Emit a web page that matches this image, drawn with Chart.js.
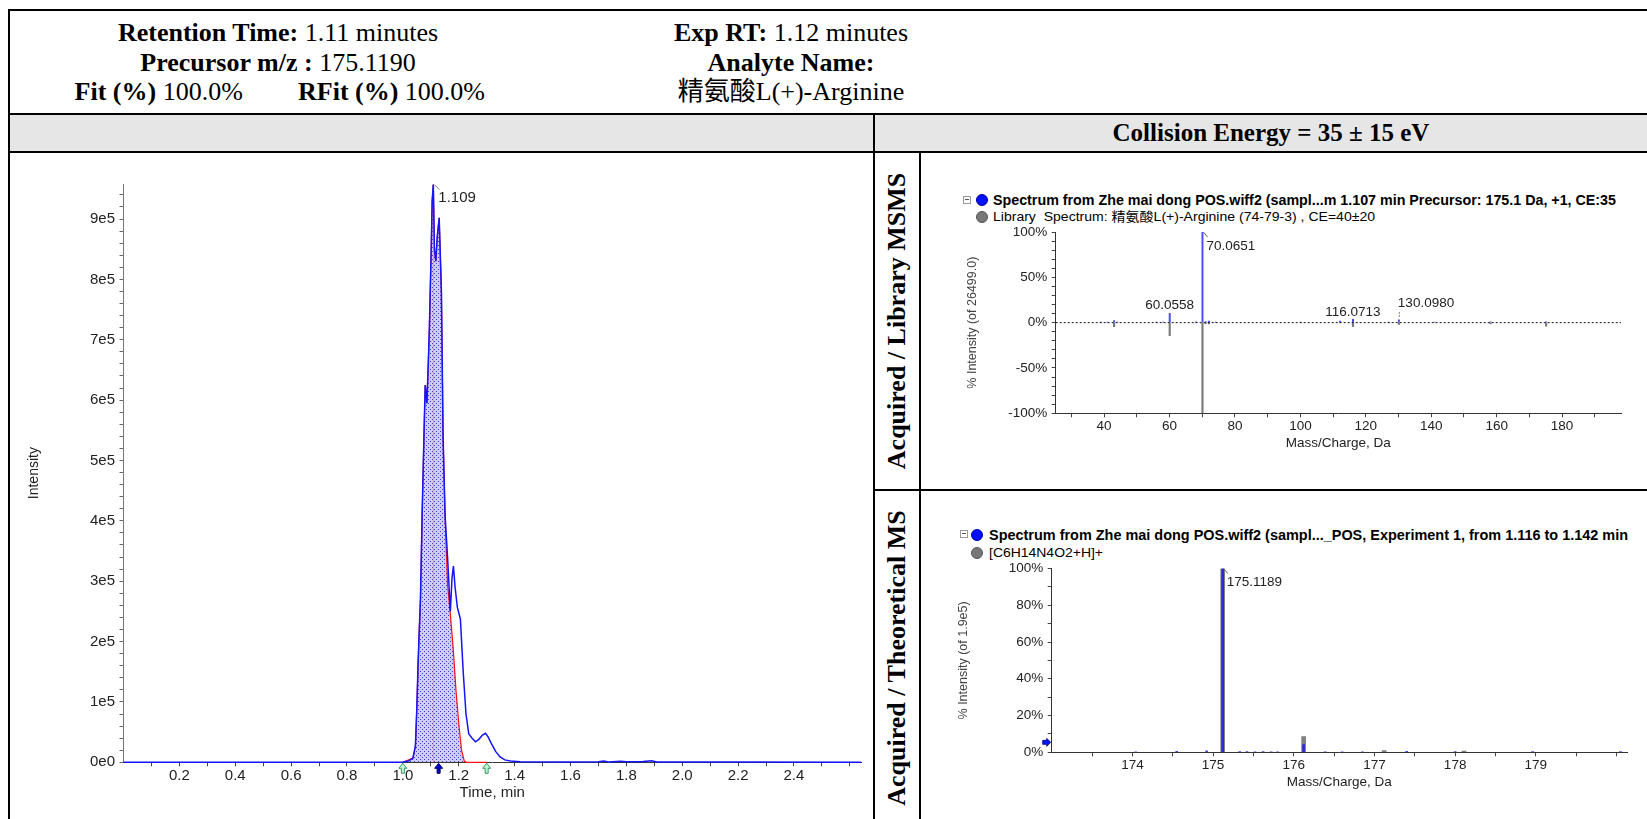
<!DOCTYPE html>
<html>
<head>
<meta charset="utf-8">
<script src="https://cdn.jsdelivr.net/npm/chart.js"></script>
<style>
html,body{margin:0;padding:0;background:#fff;}
body{position:relative;width:1647px;height:819px;overflow:hidden;}
.ln{position:absolute;background:#000;}
.hdr{position:absolute;font-family:"Liberation Serif","Times New Roman","Noto Sans CJK SC",serif;font-size:26px;line-height:29.2px;color:#000;text-align:center;white-space:nowrap;}
.rot{position:absolute;font-family:"Liberation Serif","Times New Roman",serif;font-weight:bold;font-size:26px;line-height:30px;white-space:nowrap;transform:translate(-50%,-50%) rotate(-90deg);color:#000;}
canvas{position:absolute;}
.leg{position:absolute;font-family:"Liberation Sans",Arial,"Noto Sans CJK SC",sans-serif;white-space:nowrap;transform-origin:0 50%;color:#000;line-height:16px;}
.dot{position:absolute;border-radius:50%;box-sizing:border-box;}
.box{position:absolute;width:6px;height:6px;border:1px solid #9a9a9a;background:#fff;}
.box:after{content:"";position:absolute;left:1px;top:2px;width:4px;height:1px;background:#555;}
</style>
</head>
<body>
<!-- table frame -->
<div class="ln" style="left:8px;top:9px;width:1700px;height:2px"></div>
<div class="ln" style="left:8px;top:9px;width:2px;height:820px"></div>
<div class="ln" style="left:8px;top:113px;width:1700px;height:2px"></div>
<div style="position:absolute;left:10px;top:115px;width:1650px;height:36px;background:#e6e6e6"></div>
<div class="ln" style="left:8px;top:151px;width:1700px;height:2px"></div>
<div class="ln" style="left:872.5px;top:115px;width:2px;height:710px"></div>
<div class="ln" style="left:918.5px;top:153px;width:2px;height:670px"></div>
<div class="ln" style="left:873px;top:489px;width:800px;height:2px"></div>

<!-- header -->
<div class="hdr" style="left:78px;top:18.3px;width:400px;"><b>Retention Time:</b> 1.11 minutes<br><b>Precursor m/z :</b> 175.1190</div>
<div class="hdr" style="left:74.6px;top:76.7px;text-align:left"><b>Fit (%)</b> 100.0%</div>
<div class="hdr" style="left:298px;top:76.7px;text-align:left"><b>RFit (%)</b> 100.0%</div>
<div class="hdr" style="left:591px;top:18.3px;width:400px;"><b>Exp RT:</b> 1.12 minutes<br><b>Analyte Name:</b><br>精氨酸L(+)-Arginine</div>
<div class="hdr" style="left:1071px;top:115px;width:400px;font-size:25px;line-height:36px;font-weight:bold">Collision Energy = 35 ± 15 eV</div>

<div class="rot" style="left:897px;top:321px">Acquired / Library MSMS</div>
<div class="rot" style="left:897px;top:658px">Acquired / Theoretical MS</div>

<!-- legends -->
<div class="box" style="left:963px;top:196px"></div>
<div class="dot" style="left:975.7px;top:194px;width:12px;height:12px;background:#0010ff;border:1px solid #0000a0"></div>
<div class="dot" style="left:975.7px;top:210.7px;width:12px;height:12px;background:#777;border:1px solid #555"></div>
<div class="leg" id="lt1" style="left:993.3px;top:192px;font-size:14px;font-weight:bold">Spectrum from Zhe mai dong POS.wiff2 (sampl...m 1.107 min Precursor: 175.1 Da, +1, CE:35</div>
<div class="leg" id="lt2" style="left:993.3px;top:208.7px;font-size:13px">Library&nbsp; Spectrum: 精氨酸L(+)-Arginine (74-79-3) , CE=40±20</div>

<div class="box" style="left:960px;top:530px"></div>
<div class="dot" style="left:971.3px;top:529px;width:12px;height:12px;background:#0010ff;border:1px solid #0000a0"></div>
<div class="dot" style="left:971.3px;top:547.3px;width:12px;height:12px;background:#777;border:1px solid #555"></div>
<div class="leg" id="lb1" style="left:989.3px;top:527px;font-size:14px;font-weight:bold">Spectrum from Zhe mai dong POS.wiff2 (sampl..._POS, Experiment 1, from 1.116 to 1.142 min</div>
<div class="leg" id="lb2" style="left:989.3px;top:545.3px;font-size:13px">[C6H14N4O2+H]+</div>

<canvas id="chrom" width="862" height="666" style="left:10px;top:153px"></canvas>
<canvas id="msms" width="726" height="336" style="left:921px;top:153px"></canvas>
<canvas id="ms" width="726" height="328" style="left:921px;top:491px"></canvas>

<script>
// ================= DATA =================
// Extracted ion chromatogram (time in min, intensity in counts)
const chromTime = [0, 0.5, 0.98, 1.0, 1.02, 1.036, 1.045, 1.05, 1.054, 1.058, 1.063, 1.069, 1.075, 1.08, 1.086, 1.091, 1.095, 1.101, 1.105, 1.109, 1.113, 1.118, 1.123, 1.13, 1.138, 1.144, 1.151, 1.16, 1.17, 1.176, 1.181, 1.187, 1.195, 1.206, 1.216, 1.226, 1.236, 1.248, 1.26, 1.272, 1.285, 1.296, 1.305, 1.318, 1.332, 1.348, 1.365, 1.385, 1.42, 1.6, 1.7, 1.72, 1.735, 1.78, 1.8, 1.86, 1.89, 1.91, 2.2, 2.64];
const chromIntensity = [0, 0, 0, 500, 2000, 7000, 27000, 90000, 155000, 210000, 270000, 410000, 530000, 625000, 595000, 660000, 720000, 840000, 930000, 957000, 850000, 830000, 870000, 902000, 780000, 540000, 410000, 340000, 250000, 305000, 325000, 290000, 257000, 237000, 150000, 80000, 47000, 40000, 34000, 38000, 45000, 48000, 42000, 30000, 18000, 9000, 4000, 2000, 1000, 500, 800, 2000, 500, 1800, 1000, 1200, 2500, 500, 300, 0];
// Integrated / fitted peak (red)
const fitTime = [1.0, 1.036, 1.045, 1.05, 1.054, 1.058, 1.063, 1.069, 1.075, 1.08, 1.086, 1.091, 1.095, 1.101, 1.105, 1.109, 1.113, 1.118, 1.123, 1.13, 1.138, 1.144, 1.151, 1.16, 1.17, 1.18, 1.19, 1.2, 1.21, 1.22, 1.226, 1.3];
const fitIntensity = [0, 7000, 27000, 90000, 155000, 210000, 270000, 410000, 530000, 625000, 595000, 660000, 720000, 840000, 930000, 957000, 850000, 830000, 870000, 902000, 780000, 540000, 410000, 295000, 245000, 190000, 120000, 65000, 20000, 2000, 0, 0];
const chromPeakRT = 1.109;
const chromPeakMax = 957000;
const chromPeakText = '1.109';
const peakBoundaryTimes = [1.0, 1.3];
const expectedRTMarker = 1.128;
const chromXTickLabels = [0.2, 0.4, 0.6, 0.8, 1.0, 1.2, 1.4, 1.6, 1.8, 2.0, 2.2, 2.4];
const chromYTickLabels = [0, 100000, 200000, 300000, 400000, 500000, 600000, 700000, 800000, 900000];

// MS/MS mirror (acquired up, library down), % intensity
const msmsAcqMz  = [39.0, 41.0, 43.05, 44.05, 56.05, 58.0, 60.0558, 68.05, 70.0651, 71.05, 72.05, 74.0, 100.1, 112.1, 116.0713, 127.0, 130.098, 141.0, 158.1, 175.1];
const msmsAcqInt = [0.6, 0.4, 2.2, 0.5, 0.5, 0.4, 10.4, 0.8, 100, 1.2, 1.8, 0.5, 0.4, 1.8, 3.7, 0.4, 3.0, 0.5, 0.8, 0.8];
const msmsLibMz  = [43.05, 60.05, 70.065, 71.05, 72.05, 116.07, 130.1, 158.1, 175.12];
const msmsLibInt = [-4.5, -14.5, -100, -1, -1.5, -4.5, -2, -1.5, -4];
const msmsLabels = [
  {mz: 70.0651, y: 100, text: '70.0651', pos: 'right'},
  {mz: 60.0558, y: 10.4, text: '60.0558', pos: 'above'},
  {mz: 116.0713, y: 3.7, text: '116.0713', pos: 'above'},
  {mz: 130.0980, y: 3.0, text: '130.0980', pos: 'aboveRight'}
];
const msmsXTickLabels = [40, 60, 80, 100, 120, 140, 160, 180];
const msmsYTickLabels = [-100, -50, 0, 50, 100];

// MS isotope (acquired vs theoretical), % intensity
const msAcqMz  = [174.04, 174.55, 174.92, 175.1189, 175.33, 175.42, 175.52, 175.62, 175.72, 175.8, 176.1217, 176.39, 176.6, 176.85, 177.4, 178.0, 178.96, 180.05];
const msAcqInt = [0.3, 0.5, 0.8, 100, 0.4, 0.4, 0.3, 0.4, 0.3, 0.3, 4.2, 0.3, 0.3, 0.3, 0.5, 0.4, 0.4, 0.4];
const msTheoMz  = [175.119, 176.1222, 177.12, 178.11];
const msTheoInt = [100, 8.5, 0.9, 0.6];
const msLabels = [{mz: 175.1189, y: 100, text: '175.1189', pos: 'right'}];
const msPrecursorMarker = 5.4;
const msXTickLabels = [174, 175, 176, 177, 178, 179];
const msYTickLabels = [0, 20, 40, 60, 80, 100];

// ================= HELPERS =================
function steps(a, b, s) { const r = []; for (let v = a; v <= b + 1e-9; v += s) r.push(+v.toFixed(6)); return r; }
function pts(xs, ys) { return xs.map((x, i) => ({x: x, y: ys[i]})); }
function findLabel(arr, v) { return arr.find(l => Math.abs(l - v) < 1e-6); }

Chart.defaults.font.family = '"Liberation Sans", Arial, sans-serif';
Chart.defaults.color = '#222';
Chart.defaults.animation = false;

function makePattern(ctx) {
  const c = document.createElement('canvas'); c.width = 4; c.height = 4;
  const g = c.getContext('2d');
  g.fillStyle = '#cdcdf6'; g.fillRect(0, 0, 4, 4);
  g.fillStyle = '#3c3cd8'; g.fillRect(0, 0, 1, 1); g.fillRect(2, 2, 1, 1);
  return ctx.createPattern(c, 'repeat');
}

function upArrow(ctx, cx, top, stroke, fill) {
  ctx.beginPath();
  ctx.moveTo(cx, top);
  ctx.lineTo(cx + 4, top + 5);
  ctx.lineTo(cx + 1.5, top + 5);
  ctx.lineTo(cx + 1.5, top + 10);
  ctx.lineTo(cx - 1.5, top + 10);
  ctx.lineTo(cx - 1.5, top + 5);
  ctx.lineTo(cx - 4, top + 5);
  ctx.closePath();
  ctx.fillStyle = fill; ctx.fill();
  ctx.strokeStyle = stroke; ctx.lineWidth = 1; ctx.stroke();
}

// ================= CHROMATOGRAM =================
const chromCtx = document.getElementById('chrom').getContext('2d');
const chromDecor = {
  id: 'chromDecor',
  afterDatasetsDraw(chart) {
    const {ctx, scales: {x, y}} = chart;
    ctx.save();
    const px = x.getPixelForValue(chromPeakRT), py = y.getPixelForValue(chromPeakMax);
    ctx.strokeStyle = '#777'; ctx.lineWidth = 1;
    ctx.beginPath(); ctx.moveTo(px + 1, py); ctx.lineTo(px + 6, py + 5); ctx.stroke();
    ctx.fillStyle = '#222'; ctx.font = '15px "Liberation Sans", Arial, sans-serif';
    ctx.textAlign = 'left'; ctx.textBaseline = 'middle';
    ctx.fillText(chromPeakText, px + 5, py + 13.5);
    const y0 = y.getPixelForValue(0) + 1;
    peakBoundaryTimes.forEach(t => upArrow(ctx, x.getPixelForValue(t), y0, '#2f9c60', '#c6f2d6'));
    upArrow(ctx, x.getPixelForValue(expectedRTMarker), y0, '#000070', '#0000c8');
    ctx.restore();
  }
};
new Chart(chromCtx, {
  type: 'line',
  data: {
    datasets: [
      {data: pts(fitTime, fitIntensity), borderColor: '#ff1010', borderWidth: 1.2, fill: 'origin',
       backgroundColor: makePattern(chromCtx), pointRadius: 0, tension: 0, order: 3, clip: false},
      {data: [{x: chromPeakRT, y: 0}, {x: chromPeakRT, y: chromPeakMax}], borderColor: 'rgba(240,140,150,0.9)',
       borderWidth: 1, pointRadius: 0, order: 2, clip: false},
      {data: pts(chromTime, chromIntensity), borderColor: '#1414ff', borderWidth: 1.5, pointRadius: 0,
       tension: 0, order: 1, clip: false}
    ]
  },
  options: {
    responsive: false, devicePixelRatio: 1, animation: false,
    layout: {padding: {left: 0, right: 11, top: 31, bottom: 6.7}},
    plugins: {legend: {display: false}, tooltip: {enabled: false}},
    scales: {
      x: {
        type: 'linear', min: 0, max: 2.64,
        afterBuildTicks: s => { s.ticks = steps(0.1, 2.6, 0.1).map(v => ({value: v})); },
        afterFit: s => { s.height = 50; },
        ticks: {autoSkip: false, maxRotation: 0, padding: 1, color: '#222', font: {size: 15},
                callback: v => { const m = findLabel(chromXTickLabels, v); return m === undefined ? '' : m.toFixed(1); }},
        grid: {drawOnChartArea: false, drawTicks: true, tickLength: 4, color: '#444'},
        border: {color: '#333', width: 1},
        title: {display: true, text: 'Time, min', color: '#222', font: {size: 15}, padding: {top: 0, bottom: 10.3}}
      },
      y: {
        type: 'linear', min: 0, max: 958000,
        afterBuildTicks: s => { s.ticks = steps(0, 940000, 20000).map(v => ({value: v})); },
        afterFit: s => { s.width = 113.5; },
        ticks: {autoSkip: false, padding: 4.5, color: '#222', font: {size: 15},
                callback: v => { const m = findLabel(chromYTickLabels, v); return m === undefined ? '' : (m === 0 ? '0e0' : (m / 100000) + 'e5'); }},
        grid: {drawOnChartArea: false, drawTicks: true, tickLength: 4, color: '#666'},
        border: {color: '#777', width: 1},
        title: {display: true, text: 'Intensity', color: '#222', font: {size: 14}, padding: {top: 15.6, bottom: 0}}
      }
    }
  },
  plugins: [chromDecor]
});

// ================= SPECTRUM DECOR =================
function specDecor(id, labels, arrowVal) {
  return {
    id: id,
    afterDatasetsDraw(chart) {
      const {ctx, scales: {x, y}} = chart;
      ctx.save();
      ctx.font = '13.5px "Liberation Sans", Arial, sans-serif';
      ctx.fillStyle = '#222'; ctx.textBaseline = 'middle';
      labels.forEach(l => {
        const px = x.getPixelForValue(l.mz), py = y.getPixelForValue(l.y);
        if (l.pos === 'right') {
          ctx.strokeStyle = '#666'; ctx.lineWidth = 1;
          ctx.beginPath(); ctx.moveTo(px + 1, py); ctx.lineTo(px + 5, py + 5); ctx.stroke();
          ctx.textAlign = 'left'; ctx.fillText(l.text, px + 4, py + 14);
        } else if (l.pos === 'above') {
          ctx.textAlign = 'center'; ctx.fillText(l.text, px, py - 7.5);
        } else {
          ctx.strokeStyle = '#888'; ctx.lineWidth = 1; ctx.setLineDash([2, 1]);
          ctx.beginPath(); ctx.moveTo(px + 0.5, py - 3); ctx.lineTo(px + 0.5, py - 8.5); ctx.stroke();
          ctx.setLineDash([]);
          ctx.textAlign = 'left'; ctx.fillText(l.text, px - 1, py - 16.5);
        }
      });
      if (arrowVal !== undefined) {
        const ax = x.left - 1, ay = y.getPixelForValue(arrowVal);
        ctx.beginPath();
        ctx.moveTo(ax, ay);
        ctx.lineTo(ax - 4, ay - 4);
        ctx.lineTo(ax - 4, ay - 2);
        ctx.lineTo(ax - 8, ay - 2);
        ctx.lineTo(ax - 8, ay + 2);
        ctx.lineTo(ax - 4, ay + 2);
        ctx.lineTo(ax - 4, ay + 4);
        ctx.closePath();
        ctx.fillStyle = '#0018e8'; ctx.fill();
        ctx.strokeStyle = '#000090'; ctx.lineWidth = 0.8; ctx.stroke();
      }
      ctx.restore();
    }
  };
}

function specAxes(o) {
  return {
    x: {
      type: 'linear', min: o.xmin, max: o.xmax, offset: false,
      afterBuildTicks: s => { s.ticks = o.xticks.map(v => ({value: v})); },
      afterFit: s => { s.height = 50; },
      ticks: {autoSkip: false, maxRotation: 0, padding: 1, color: '#222', font: {size: 13.5},
              callback: v => { const m = findLabel(o.xlabels, v); return m === undefined ? '' : String(m); }},
      grid: {drawOnChartArea: false, drawTicks: true, tickLength: 4, color: '#444', offset: false},
      border: {color: '#333', width: 1},
      title: {display: true, text: 'Mass/Charge, Da', color: '#222', font: {size: 13.5}, padding: {top: 0, bottom: o.xtitlePad}}
    },
    y: {
      type: 'linear', min: o.ymin, max: o.ymax,
      afterBuildTicks: s => { s.ticks = o.yticks.map(v => ({value: v})); },
      afterFit: s => { s.width = o.yw; },
      ticks: {autoSkip: false, padding: 4.4, color: '#222', font: {size: 13.5},
              callback: v => { const m = findLabel(o.ylabels, v); return m === undefined ? '' : m + '%'; }},
      grid: {drawOnChartArea: false, drawTicks: true, tickLength: 4, color: '#444'},
      border: {color: '#333', width: 1},
      title: {display: true, text: o.ytitle, color: '#444', font: {size: 12.5}, padding: {top: o.ytitlePad, bottom: 0}}
    }
  };
}

// ================= MS/MS MIRROR =================
new Chart(document.getElementById('msms').getContext('2d'), {
  type: 'bar',
  data: {
    datasets: [
      {data: pts(msmsLibMz, msmsLibInt), backgroundColor: '#7a7a7a', barThickness: 1.5, grouped: false, order: 3},
      {data: pts(msmsAcqMz, msmsAcqInt), backgroundColor: '#4a4aff', barThickness: 1.3, grouped: false, order: 2},
      {type: 'line', data: [{x: 25.2, y: 0}, {x: 198, y: 0}], borderColor: '#111', borderWidth: 1,
       borderDash: [2, 2], pointRadius: 0, order: 1}
    ]
  },
  options: {
    responsive: false, devicePixelRatio: 1, animation: false,
    layout: {padding: {left: 0, right: 26, top: 79, bottom: 25.7}},
    plugins: {legend: {display: false}, tooltip: {enabled: false}},
    scales: specAxes({xmin: 25.2, xmax: 198, xticks: steps(30, 190, 10), xlabels: msmsXTickLabels, xtitlePad: 11.9,
                      ymin: -100, ymax: 100, yticks: steps(-100, 100, 10), ylabels: msmsYTickLabels, yw: 134.7,
                      ytitle: '% Intensity (of 26499.0)', ytitlePad: 44.5})
  },
  plugins: [specDecor('msmsDecor', msmsLabels)]
});

// ================= MS ISOTOPES =================
new Chart(document.getElementById('ms').getContext('2d'), {
  type: 'bar',
  data: {
    datasets: [
      {data: pts(msTheoMz, msTheoInt), backgroundColor: '#808080', barThickness: 4, grouped: false, order: 2},
      {data: pts(msAcqMz, msAcqInt), backgroundColor: 'rgba(20,20,235,0.8)', barThickness: 2, grouped: false, order: 1}
    ]
  },
  options: {
    responsive: false, devicePixelRatio: 1, animation: false,
    layout: {padding: {left: 0, right: 20, top: 77.5, bottom: 16.7}},
    plugins: {legend: {display: false}, tooltip: {enabled: false}},
    scales: specAxes({xmin: 173, xmax: 180.13, xticks: steps(173.5, 180, 0.5), xlabels: msXTickLabels, xtitlePad: 12.2,
                      ymin: 0, ymax: 100, yticks: steps(0, 100, 10), ylabels: msYTickLabels, yw: 130.7,
                      ytitle: '% Intensity (of 1.9e5)', ytitlePad: 35.5})
  },
  plugins: [specDecor('msDecor', msLabels, msPrecursorMarker)]
});

// ================= legend width fitting =================
function fitWidth(id, target) {
  const el = document.getElementById(id);
  const w = el.getBoundingClientRect().width;
  if (w > 0) el.style.transform = 'scaleX(' + (target / w) + ')';
}
fitWidth('lt1', 623); fitWidth('lt2', 382); fitWidth('lb1', 639); fitWidth('lb2', 114);
</script>
</body>
</html>
